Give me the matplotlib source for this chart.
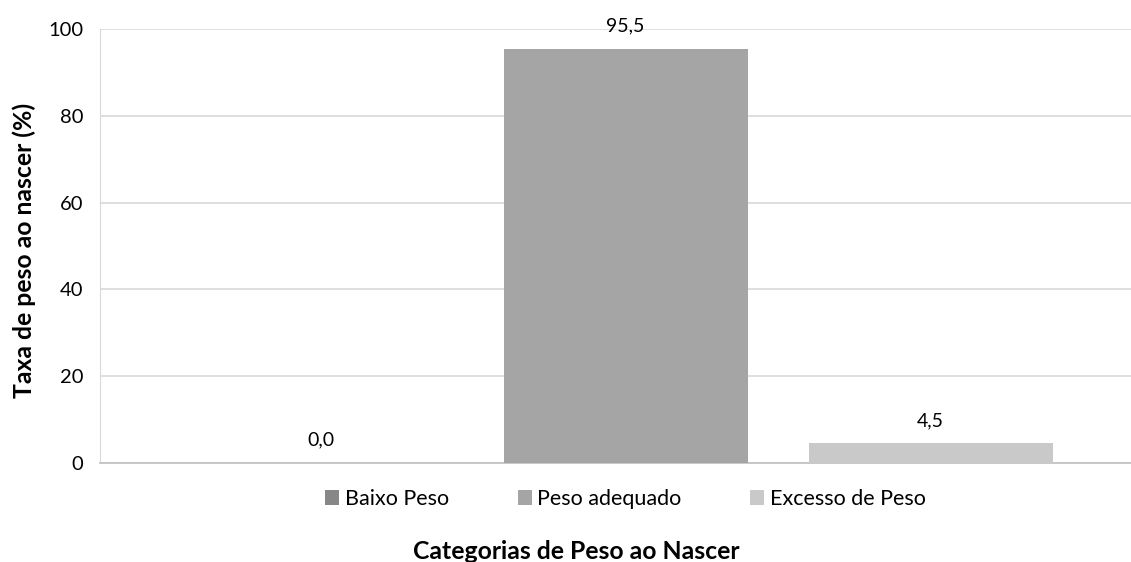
import matplotlib
matplotlib.use("Agg")
import matplotlib.pyplot as plt
from matplotlib.patches import Patch

series = ["Baixo Peso", "Peso adequado", "Excesso de Peso"]
values = [0.0, 95.5, 4.5]
labels = ["0,0", "95,5", "4,5"]
colors = ["#878787", "#a5a5a5", "#c9c9c9"]
yticks = [0, 20, 40, 60, 80, 100]

plt.rcParams['font.family'] = ['Lato', 'DejaVu Sans']

fig = plt.figure(figsize=(11.31, 5.62), dpi=100)
W, H = 1131, 562
ax = fig.add_axes([100 / W, 1 - 463 / H, (1131 - 100) / W, (463 - 29) / H])

pos = list(range(len(series)))
ax.bar(pos, values, width=0.8, color=colors, zorder=3)
for p, v, t in zip(pos, values, labels):
    ax.annotate(t, (p, v), xytext=(0, 12.5), textcoords='offset points',
                ha='center', va='baseline', fontsize=14, color='#000000')

ax.set_xlim(-0.723, 2.657)
ax.set_ylim(0, 100)
ax.set_yticks(yticks)
ax.set_yticklabels([str(t) for t in yticks], fontsize=14.5)
ax.set_xticks([])
ax.tick_params(axis='y', length=0, pad=12)
ax.grid(axis='y', color='#d9d9d9', linewidth=1.2, zorder=0)
for s in ['top', 'right']:
    ax.spines[s].set_visible(False)
ax.spines['left'].set_color('#d9d9d9')
ax.spines['bottom'].set_color('#bfbfbf')
ax.spines['bottom'].set_linewidth(1.2)

fig.text(24 / W, 1 - 250 / H, "Taxa de peso ao nascer (%)", rotation=90, ha='center', va='center',
         fontsize=17.8, fontweight='bold')

handles = [Patch(facecolor=c, edgecolor='none') for c in colors]
fig.legend(handles, series, loc='center', bbox_to_anchor=(625.5 / W, 1 - 499 / H), ncol=3,
           frameon=False, fontsize=15.5, handlelength=0.65, handleheight=0.65,
           handletextpad=0.25, columnspacing=3.2, borderpad=0, borderaxespad=0)

fig.text(576 / W, 1 - 559 / H, "Categorias de Peso ao Nascer", ha='center', va='baseline',
         fontsize=17.8, fontweight='bold')

fig.savefig("out.png", dpi=100)
